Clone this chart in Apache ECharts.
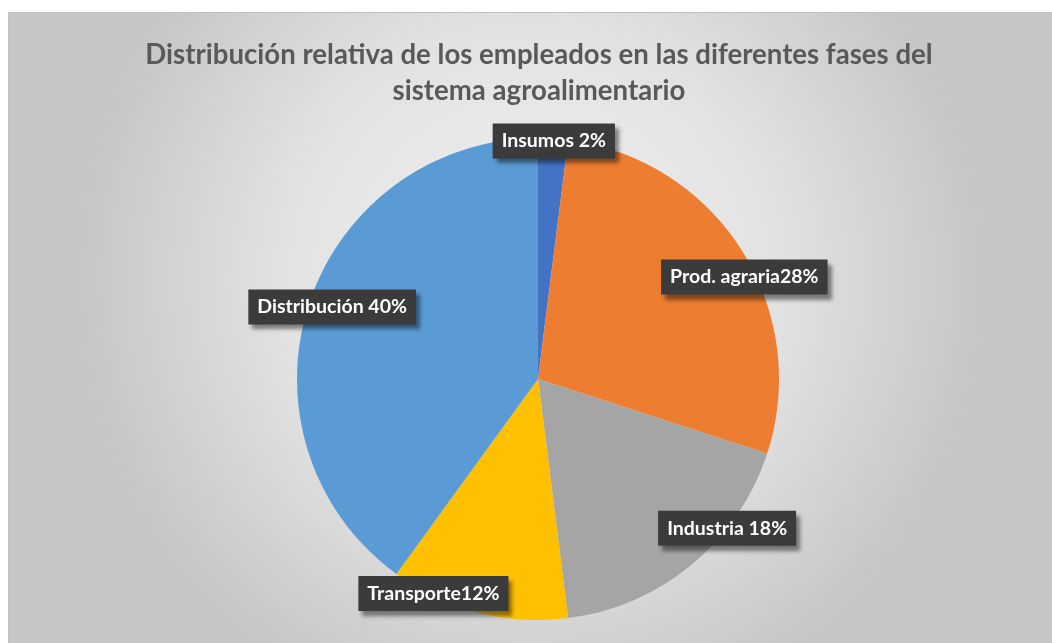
<!DOCTYPE html>
<html>
<head>
<meta charset="utf-8">
<script src="https://cdn.jsdelivr.net/npm/echarts@6/dist/echarts.min.js"></script>
<style>
  html, body { margin: 0; padding: 0; background: #ffffff; }
  #chart {
    position: absolute;
    left: 8px;
    top: 12px;
    width: 1044px;
    height: 631px;
    box-sizing: border-box;
    border-top: 1px solid #bfbfbf;
    border-left: 1px solid #bfbfbf;
  }
</style>
</head>
<body>
<div id="chart"></div>
<script>
// datos
var categories = ["Insumos", "Prod. agraria", "Industria", "Transporte", "Distribución"];
var values = [2, 28, 18, 12, 40];
var labelTexts = ["Insumos 2%", "Prod. agraria28%", "Industria 18%", "Transporte12%", "Distribución 40%"];
var colors = ["#4472C4", "#ED7D31", "#A5A5A5", "#FFC000", "#5B9BD5"];
// posición de las etiquetas (ángulo desde arriba en grados, distancia relativa al radio)
var labelAngles = [3.8, 63.7, 128.3, 206, 289.3];
var labelDist = [0.99, 0.955, 1.0, 0.99, 0.905];

var cx = 529, cy = 366, radius = 241;

var myChart = echarts.init(document.getElementById("chart"));

var data = categories.map(function (name, i) {
  return { name: name, value: values[i], itemStyle: { color: colors[i] } };
});

var option = {
  backgroundColor: {
    type: "radial",
    x: 0.5,
    y: 0.42,
    r: 0.72,
    colorStops: [
      { offset: 0, color: "#f2f2f2" },
      { offset: 0.55, color: "#e2e2e2" },
      { offset: 1, color: "#c6c6c6" }
    ]
  },
  title: {
    text: "Distribución relativa de los empleados en las diferentes fases del\nsistema agroalimentario",
    left: 525,
    textAlign: "center",
    top: 19,
    textStyle: {
      fontFamily: "Lato",
      fontWeight: "bold",
      fontSize: 27.6,
      lineHeight: 36,
      color: "#595959"
    }
  },
  series: [
    {
      type: "pie",
      center: [cx, cy],
      radius: radius,
      startAngle: 90,
      clockwise: true,
      data: data,
      itemStyle: { borderWidth: 0 },
      emphasis: { disabled: true },
      label: {
        show: true,
        position: "inside",
        formatter: function (p) {
          return labelTexts[p.dataIndex];
        },
        fontFamily: "Lato",
        fontWeight: "bold",
        fontSize: 19.5,
        color: "#ffffff",
        backgroundColor: "#3b3b3b",
        padding: [8, 9, 7, 9],
        shadowColor: "rgba(0,0,0,0.45)",
        shadowBlur: 4,
        shadowOffsetX: 4,
        shadowOffsetY: 5
      },
      labelLine: { show: false },
      labelLayout: function (params) {
        var i = params.dataIndex;
        var a = labelAngles[i] * Math.PI / 180;
        var r = radius * labelDist[i];
        return {
          x: cx + r * Math.sin(a),
          y: cy - r * Math.cos(a),
          align: "center",
          verticalAlign: "middle"
        };
      }
    }
  ]
};

window.onresize = myChart.resize;
myChart.setOption(option);
</script>
</body>
</html>
